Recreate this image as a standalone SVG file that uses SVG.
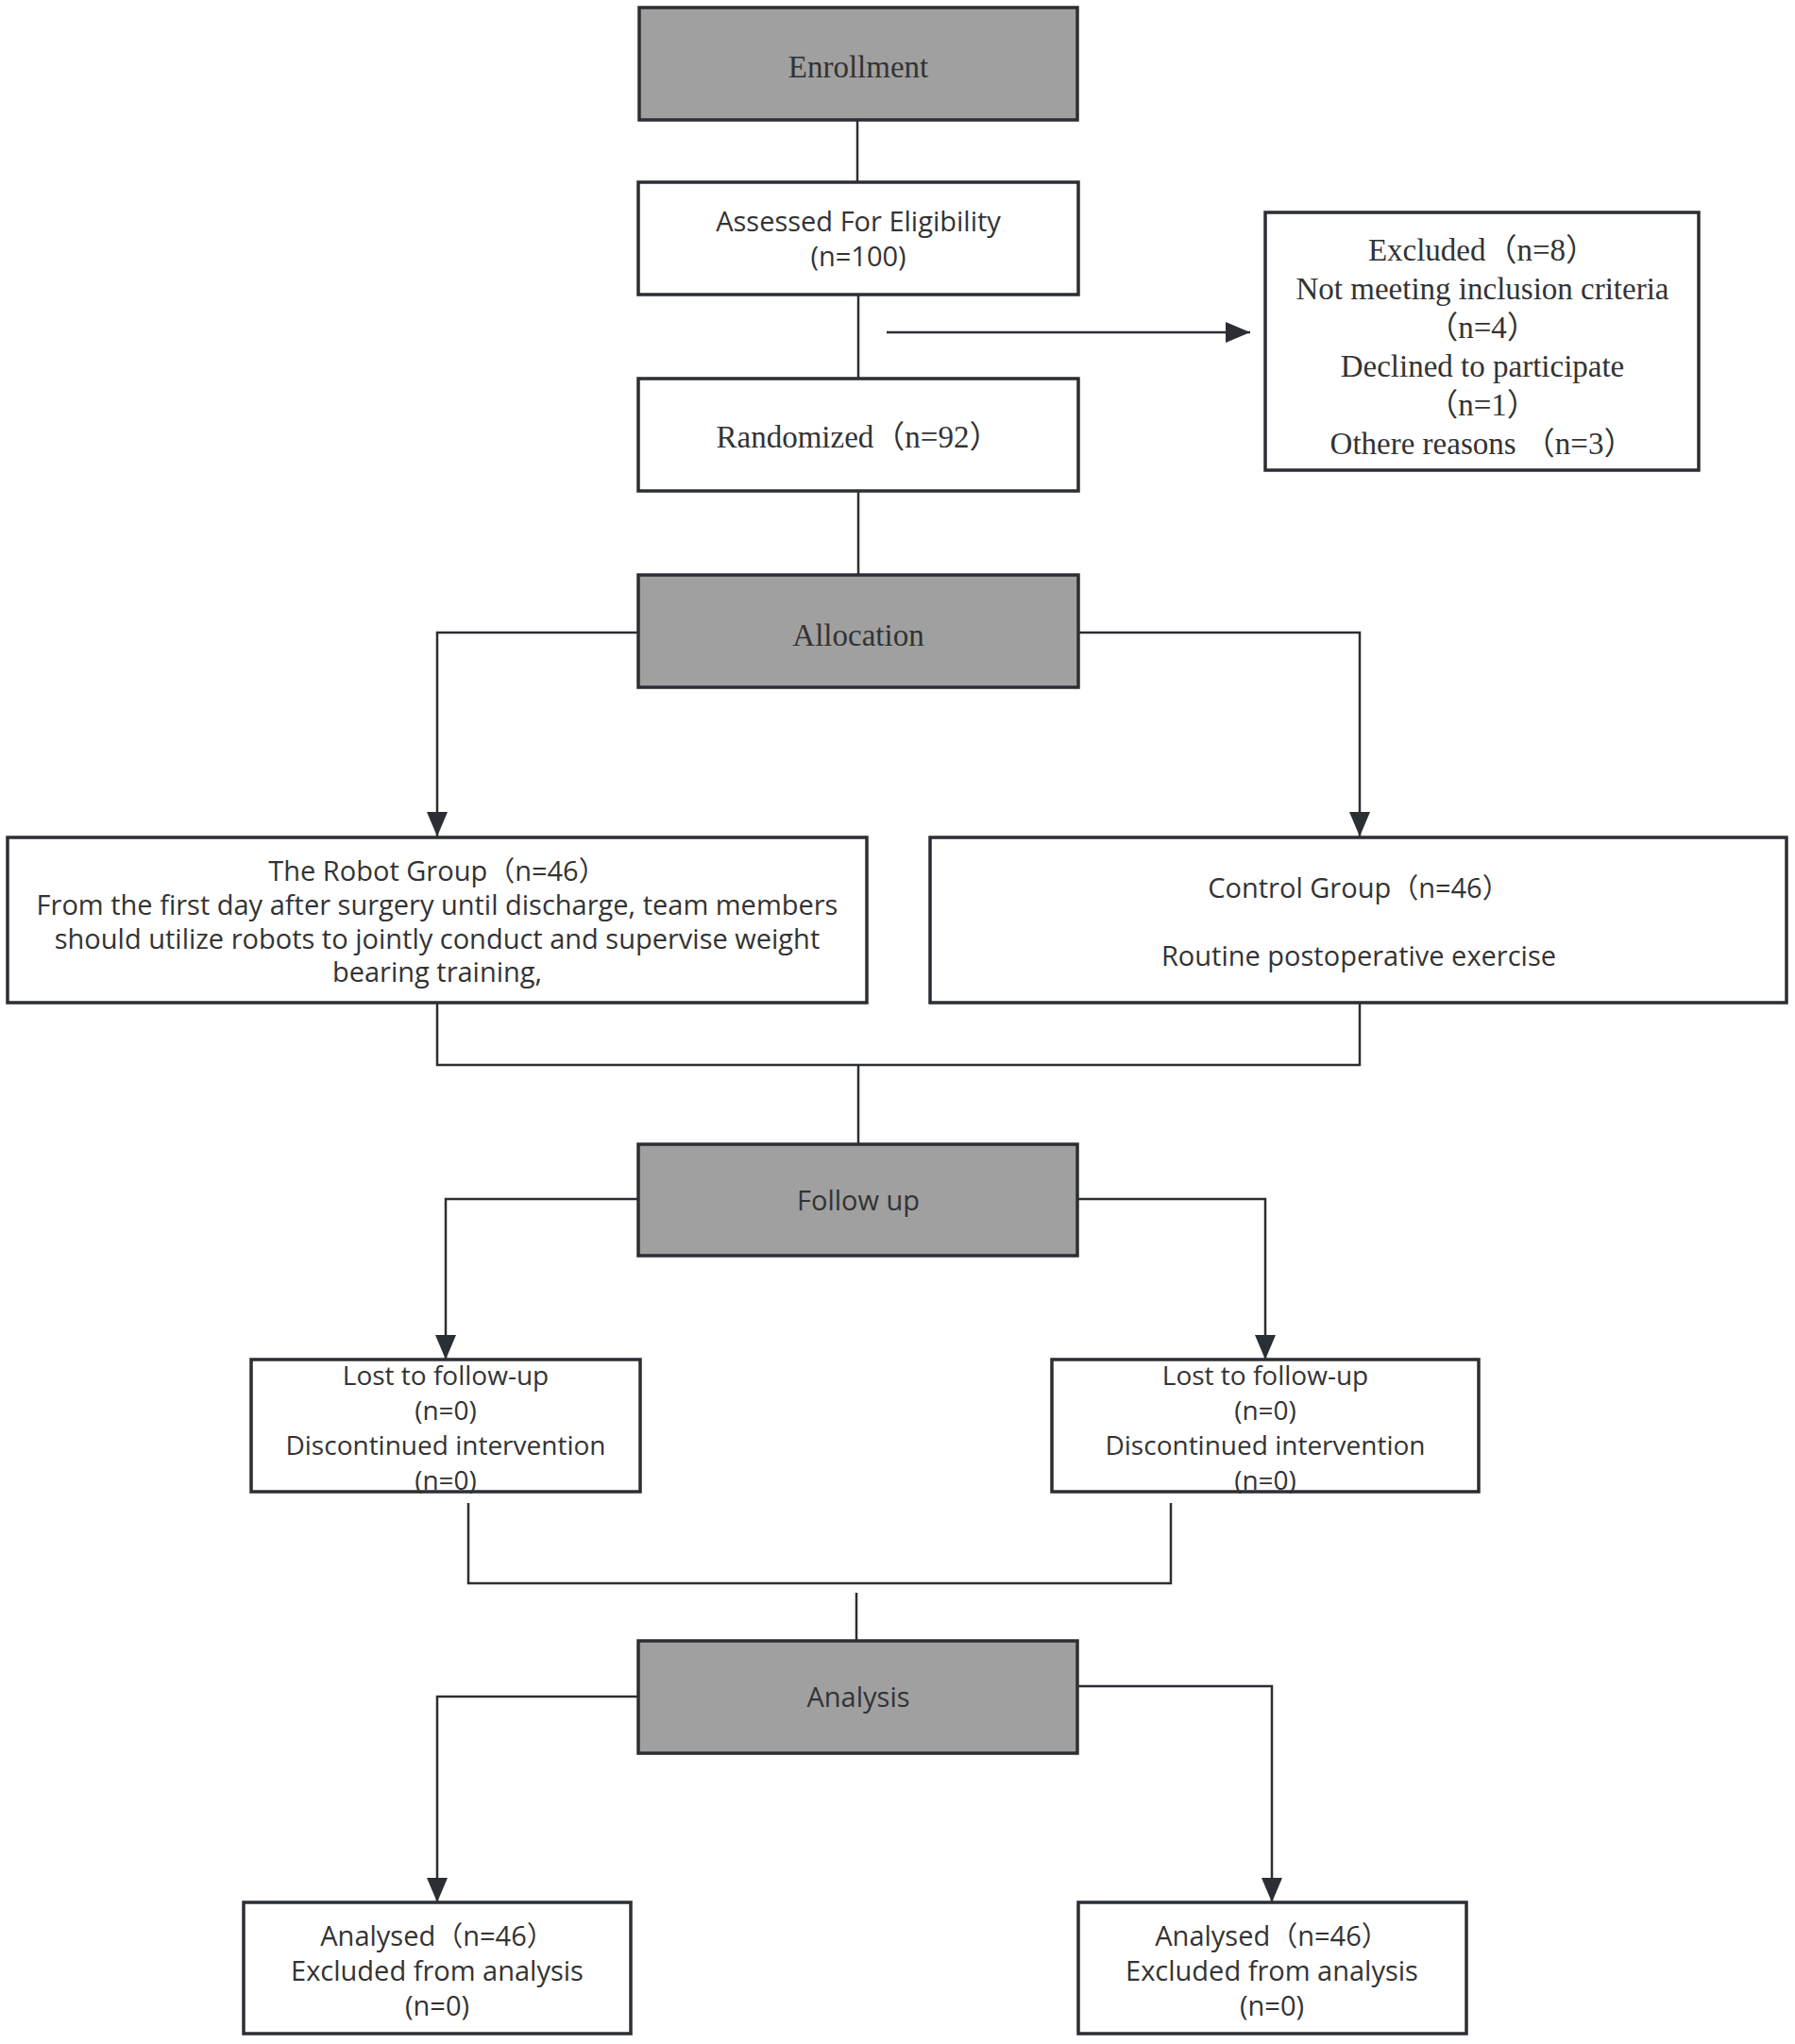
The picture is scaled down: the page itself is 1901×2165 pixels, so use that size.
<svg xmlns="http://www.w3.org/2000/svg" width="1901" height="2165" viewBox="0 0 1901 2165">
<defs>
<style>
.box{fill:#ffffff;stroke:#2b2e33;stroke-width:3.5}
.stage{fill:#a0a0a0;stroke:#2b2e33;stroke-width:3.5}
.ln{fill:none;stroke:#2b2e33;stroke-width:2.5}
.sans{font-family:"Open Sans","Noto Sans CJK SC",sans-serif;font-size:29px;fill:#333333;text-anchor:middle}
.small{font-size:28px}
.serif{font-family:"Liberation Serif","Noto Sans CJK SC",serif;font-size:33px;fill:#333333;text-anchor:middle}
</style>
<marker id="arr" markerUnits="userSpaceOnUse" markerWidth="26" markerHeight="22" refX="26" refY="11" orient="auto">
<path d="M0,0 L26,11 L0,22 z" fill="#2b2e33"/>
</marker>
</defs>
<rect width="1901" height="2165" fill="#ffffff"/>

<g id="connectors">
<line class="ln" x1="908" y1="127" x2="908" y2="193"/>
<line class="ln" x1="909" y1="312" x2="909" y2="401"/>
<line class="ln" x1="939" y1="352" x2="1324" y2="352" marker-end="url(#arr)"/>
<line class="ln" x1="909" y1="520" x2="909" y2="609"/>
<polyline class="ln" points="676,670 463,670 463,886" marker-end="url(#arr)"/>
<polyline class="ln" points="1141,670 1440,670 1440,886" marker-end="url(#arr)"/>
<polyline class="ln" points="463,1063 463,1128 1440,1128 1440,1063"/>
<line class="ln" x1="909" y1="1128" x2="909" y2="1212"/>
<polyline class="ln" points="676,1270 472,1270 472,1440" marker-end="url(#arr)"/>
<polyline class="ln" points="1141,1270 1340,1270 1340,1440" marker-end="url(#arr)"/>
<polyline class="ln" points="496,1592 496,1677 1240,1677 1240,1592"/>
<line class="ln" x1="907" y1="1687" x2="907" y2="1738"/>
<polyline class="ln" points="676,1797 463,1797 463,2015" marker-end="url(#arr)"/>
<polyline class="ln" points="1141,1786 1347,1786 1347,2015" marker-end="url(#arr)"/>
</g>

<g id="enrollment">
<rect class="stage" x="677" y="8" width="464" height="119"/>
<text class="serif" x="909" y="82">Enrollment</text>
</g>

<g id="assessed">
<rect class="box" x="676" y="193" width="466" height="119"/>
<text class="sans" x="909" y="245">Assessed For Eligibility</text>
<text class="sans" x="909" y="282">(n=100)</text>
</g>

<g id="excluded">
<rect class="box" x="1340" y="225" width="459" height="273"/>
<text class="serif" x="1570" y="276">Excluded（n=8）</text>
<text class="serif" x="1570" y="317">Not meeting inclusion criteria</text>
<text class="serif" x="1570" y="358">（n=4）</text>
<text class="serif" x="1570" y="399">Declined to participate</text>
<text class="serif" x="1570" y="440">（n=1）</text>
<text class="serif" x="1570" y="481">Othere reasons （n=3）</text>
</g>

<g id="randomized">
<rect class="box" x="676" y="401" width="466" height="119"/>
<text class="serif" x="909" y="474">Randomized（n=92）</text>
</g>

<g id="allocation">
<rect class="stage" x="676" y="609" width="466" height="119"/>
<text class="serif" x="909" y="684">Allocation</text>
</g>

<g id="robot-group">
<rect class="box" x="8" y="887" width="910" height="175"/>
<text class="sans" x="463" y="933">The Robot Group（n=46）</text>
<text class="sans" x="463" y="969">From the first day after surgery until discharge, team members</text>
<text class="sans" x="463" y="1005">should utilize robots to jointly conduct and supervise weight</text>
<text class="sans" x="463" y="1040">bearing training,</text>
</g>

<g id="control-group">
<rect class="box" x="985" y="887" width="907" height="175"/>
<text class="sans" x="1439" y="951">Control Group（n=46）</text>
<text class="sans" x="1439" y="1023">Routine postoperative exercise</text>
</g>

<g id="follow-up">
<rect class="stage" x="676" y="1212" width="465" height="118"/>
<text class="sans" x="909" y="1282">Follow up</text>
</g>

<g id="lost-left">
<rect class="box" x="266" y="1440" width="412" height="140"/>
<text class="sans small" x="472" y="1467">Lost to follow-up</text>
<text class="sans small" x="472" y="1504">(n=0)</text>
<text class="sans small" x="472" y="1541">Discontinued intervention</text>
<text class="sans small" x="472" y="1578">(n=0)</text>
</g>

<g id="lost-right">
<rect class="box" x="1114" y="1440" width="452" height="140"/>
<text class="sans small" x="1340" y="1467">Lost to follow-up</text>
<text class="sans small" x="1340" y="1504">(n=0)</text>
<text class="sans small" x="1340" y="1541">Discontinued intervention</text>
<text class="sans small" x="1340" y="1578">(n=0)</text>
</g>

<g id="analysis">
<rect class="stage" x="676" y="1738" width="465" height="119"/>
<text class="sans" x="909" y="1808">Analysis</text>
</g>

<g id="analysed-left">
<rect class="box" x="258" y="2015" width="410" height="139"/>
<text class="sans" x="463" y="2061">Analysed（n=46）</text>
<text class="sans" x="463" y="2098">Excluded from analysis</text>
<text class="sans" x="463" y="2135">(n=0)</text>
</g>

<g id="analysed-right">
<rect class="box" x="1142" y="2015" width="411" height="139"/>
<text class="sans" x="1347" y="2061">Analysed（n=46）</text>
<text class="sans" x="1347" y="2098">Excluded from analysis</text>
<text class="sans" x="1347" y="2135">(n=0)</text>
</g>
</svg>
